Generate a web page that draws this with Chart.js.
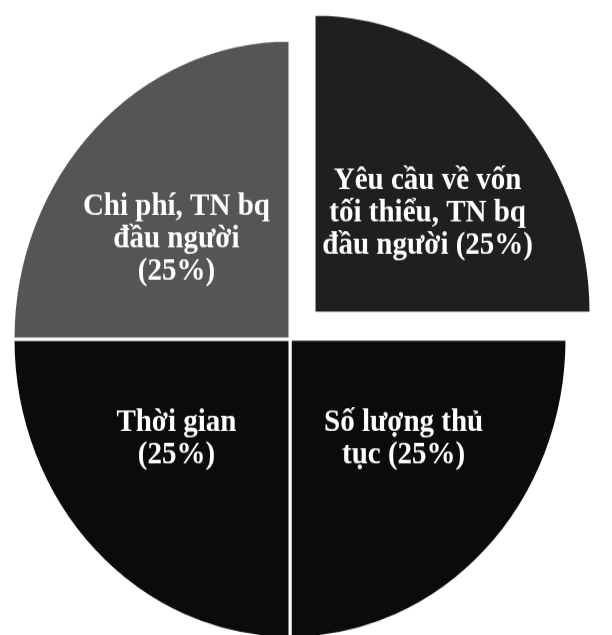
<!DOCTYPE html>
<html>
<head>
<meta charset="utf-8">
<script src="https://cdn.jsdelivr.net/npm/chart.js@4/dist/chart.umd.min.js"></script>
<style>
  html, body { margin: 0; padding: 0; background: #fff; }
  body { width: 612px; height: 635px; }
  #wrap { width: 612px; height: 588px; transform: scaleY(1.08); transform-origin: 0 0; }
</style>
</head>
<body>
<div id="wrap"><canvas id="myChart" width="612" height="588"></canvas></div>
<script>
// slices in drawing order (clockwise from 12 o'clock)
const categories = ['Yêu cầu về vốn tối thiểu, TN bq đầu người', 'Số lượng thủ tục', 'Thời gian', 'Chi phí, TN bq đầu người']
const values = [25, 25, 25, 25]
const labelLines = [
    ['Yêu cầu về vốn', 'tối thiểu, TN bq', 'đầu người (25%)'],
    ['Số lượng thủ', 'tục (25%)'],
    ['Thời gian', '(25%)'],
    ['Chi phí, TN bq', 'đầu người', '(25%)']
]
const colors = ['#1f1f1f', '#0b0b0b', '#0b0b0b', '#555555']
const offsets = [136, 0, 0, 0]

// draw the text inside each slice
const sliceLabels = {
    id: 'sliceLabels',
    afterDatasetsDraw(chart) {
        const ctx = chart.ctx
        const meta = chart.getDatasetMeta(0)
        ctx.save()
        ctx.fillStyle = '#fff'
        ctx.font = 'bold 29px "Liberation Serif", "Times New Roman", serif'
        ctx.textAlign = 'center'
        ctx.textBaseline = 'middle'
        meta.data.forEach((arc, i) => {
            const p = arc.getProps(['x', 'y', 'startAngle', 'endAngle', 'outerRadius'], true)
            const mid = (p.startAngle + p.endAngle) / 2
            const off = offsets[i] / 4
            const cx = p.x + Math.cos(mid) * (off + p.outerRadius * 0.58)
            const cy = p.y + Math.sin(mid) * (off + p.outerRadius * 0.47)
            const lines = labelLines[i]
            const lh = 30
            lines.forEach((t, j) => {
                ctx.fillText(t, cx, cy + (j - (lines.length - 1) / 2) * lh)
            })
        })
        ctx.restore()
    }
}

const ctx = document.getElementById('myChart')

new Chart(ctx, {
    type: 'pie',
    data: {
        labels: categories,
        datasets: [{
            data: values,
            backgroundColor: colors,
            borderColor: '#fff',
            borderWidth: 3,
            offset: offsets,
            radius: 277,
            clip: false
        }]
    },
    options: {
        responsive: false,
        animation: false,
        events: [],
        layout: { padding: { left: 0, right: 32, top: 40, bottom: 0 } },
        plugins: {
            legend: { display: false },
            tooltip: { enabled: false }
        }
    },
    plugins: [sliceLabels]
})
</script>
</body>
</html>
